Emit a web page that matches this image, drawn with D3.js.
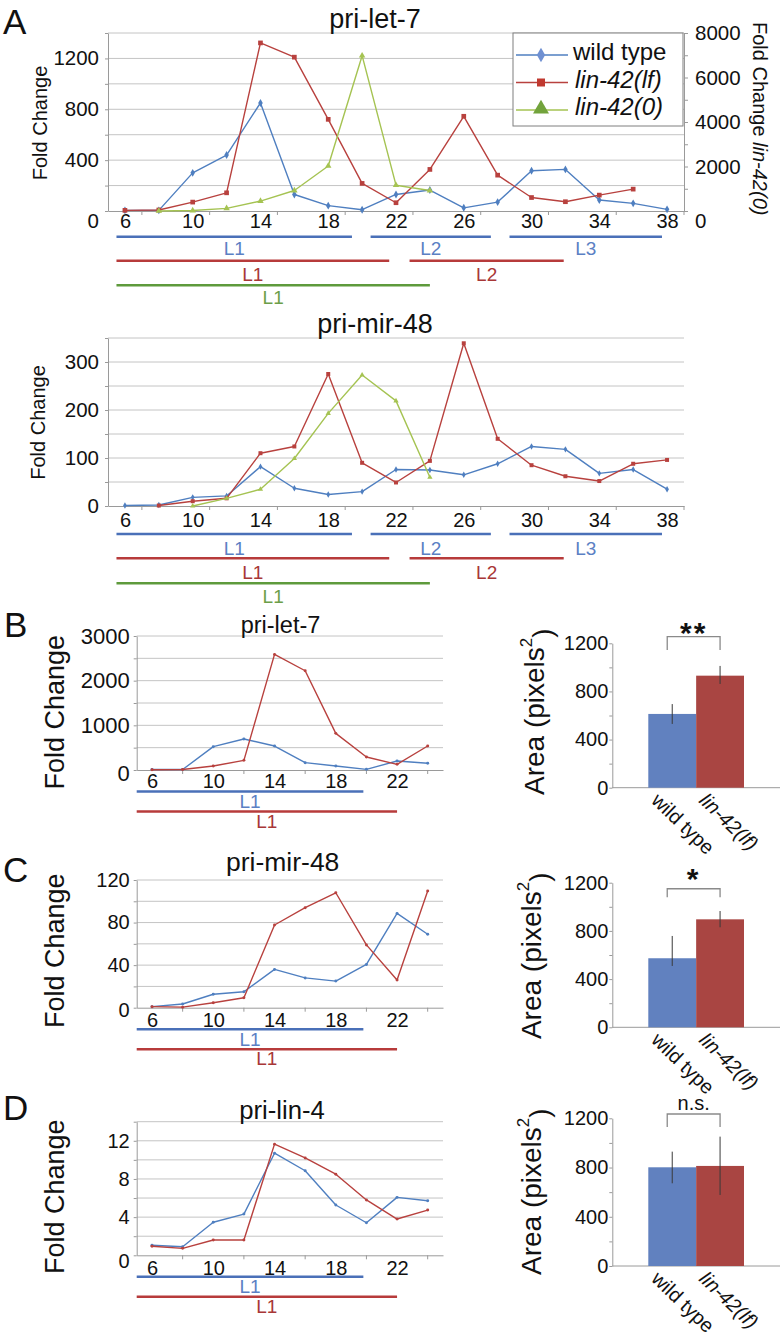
<!DOCTYPE html>
<html><head><meta charset="utf-8">
<script src="https://cdn.jsdelivr.net/npm/d3@7"></script>
<style>body{margin:0;background:#fff}svg text{font-family:"Liberation Sans",Arial,sans-serif}</style>
</head><body><script>
// ---------------- DATA ----------------
const hoursA = [6,8,10,12,14,16,18,20,22,24,26,28,30,32,34,36,38];
const let7WildType   = [5,5,300,440,850,130,42,10,130,165,25,70,316,327,86,60,13];
const let7Lin42lf    = [5,8,70,143,1322,1210,721,217,65,327,745,282,106,73,125,172,null];
const let7Lin42null  = [null,0,20,120,447,920,2025,6980,1160,920,null,null,null,null,null,null,null];
const mir48WildType  = [1,2,18,21,82,37,24,30,76,75,65,88,124,118,68,76,35];
const mir48Lin42lf   = [null,1,10,16,110,124,275,90,49,94,339,140,85,62,52,88,96];
const mir48Lin42null = [null,null,0,16,35,99,193,273,219,60,null,null,null,null,null,null,null];

const hoursB = [6,8,10,12,14,16,18,20,22,24];
const let7WildTypeB  = [10,10,522,693,537,164,90,15,201,150];
const let7Lin42lfB   = [5,10,90,216,2588,2222,820,291,127,537];
const mir48WildTypeC = [1,3.5,12.6,15,36,28,25,40.7,88.6,69];
const mir48Lin42lfC  = [1,0.5,4.7,9.4,77.7,94,108,59,26,109.6];
const lin4WildTypeD  = [1.05,0.9,3.46,4.32,10.7,8.86,5.27,3.41,6.07,5.72];
const lin4Lin42lfD   = [0.95,0.73,1.6,1.6,11.65,10.2,8.5,5.8,3.8,4.74];

const xTicksA = [6,10,14,18,22,26,30,34,38];
const xTicksB = [6,10,14,18,22];
const legendLabels = ['wild type','lin-42(lf)','lin-42(0)'];

const genotypes = ['wild type','lin-42(lf)'];
const areaLet7  = [613,931];  const areaLet7Err  = [[530,695],[862,1012]];
const areaMir48 = [573,896];  const areaMir48Err = [[509,758],[830,965]];
const areaLin4  = [802,813];  const areaLin4Err  = [[672,929],[577,1051]];
const sigLabels = ['**','*','n.s.'];

const stagesWildTypeA  = [['L1',5.5,19.4],['L2',20.5,27.6],['L3',28.7,37.7]];
const stagesLin42lfA   = [['L1',5.5,21.6],['L2',22.8,31.9]];
const stagesLin42nullA = [['L1',5.5,24.0]];
const stagesWildTypeB  = [['L1',5,19.8]];
const stagesLin42lfB   = [['L1',5,22]];

// ---------------- STYLE ----------------
const FONT = '"Liberation Sans", Arial, sans-serif';
const BLUE = '#4f7fc0', RED = '#b8413e', GREEN = '#a5c352';
const GRID = '#c4c4c4', AXIS = '#9a9a9a', INK = '#111';
const svg = d3.select('body').append('svg').attr('width',780).attr('height',1339);

function styleAxis(sel, fs){
  sel.attr('font-family', FONT).attr('font-size', fs);
  sel.select('.domain').attr('stroke', AXIS);
  sel.selectAll('.tick line').attr('stroke', AXIS);
  sel.selectAll('.tick text').attr('fill', INK);
}

function lineChart(o){
  const x = d3.scaleLinear().domain(o.xDomain).range([o.left, o.right]);
  const y = d3.scaleLinear().domain(o.yDomain).range([o.bottom, o.top]);
  const g = svg.append('g');
  const gridVals = d3.range(o.yStep, o.yDomain[1] + o.yStep/2, o.yStep);
  g.append('g').selectAll('line').data(gridVals).join('line')
    .attr('x1', o.left).attr('x2', o.right)
    .attr('y1', d => y(d)).attr('y2', d => y(d))
    .attr('stroke', GRID).attr('stroke-width', 1);
  const ax = g.append('g').attr('transform', `translate(${o.left},0)`)
    .call(d3.axisLeft(y).tickValues(d3.range(0, o.yDomain[1] + o.yStep/2, o.yStep))
      .tickSize(3).tickSizeOuter(0).tickPadding(o.yPad)
      .tickFormat(d => o.yLabels.includes(d) ? d : ''));
  styleAxis(ax, o.yFont);
  ax.selectAll('.tick').filter(d => d === 0).select('text').attr('dy', (0.32*o.yFont + o.zeroDy) + 'px');
  const xa = g.append('g').attr('transform', `translate(0,${o.bottom})`)
    .call(d3.axisBottom(x).tickValues(o.xTicks).tickSize(0).tickSizeOuter(0).tickPadding(o.xPad));
  styleAxis(xa, o.xFont);
  g.append('g').selectAll('line').data(o.xMinor).join('line')
    .attr('x1', d => x(d)).attr('x2', d => x(d))
    .attr('y1', o.bottom).attr('y2', o.bottom + 4).attr('stroke', AXIS);
  let yR = null;
  if (o.yRDomain){
    yR = d3.scaleLinear().domain(o.yRDomain).range([o.bottom, o.top]);
    const ar = g.append('g').attr('transform', `translate(${o.right},0)`)
      .call(d3.axisRight(yR).tickValues(d3.range(0, o.yRDomain[1]+1, 1000))
        .tickSize(4).tickSizeOuter(0).tickPadding(7)
        .tickFormat(d => d % 2000 === 0 ? d : ''));
    styleAxis(ar, o.yFont);
    ar.selectAll('.tick').filter(d => d === 0).select('text').attr('dy', (0.32*o.yFont + o.zeroDy) + 'px');
  }
  o.series.forEach(s => {
    const ys = s.right ? yR : y;
    const pts = o.hours.map((h,i) => ({h, v: s.values[i]})).filter(d => d.v != null);
    g.append('path').datum(pts).attr('fill','none').attr('stroke', s.color)
      .attr('stroke-width', o.lineW).attr('stroke-linejoin','round')
      .attr('d', d3.line().x(d => x(d.h)).y(d => ys(d.v)));
    g.append('g').selectAll('path').data(pts).join('path')
      .attr('transform', d => `translate(${x(d.h)},${ys(d.v)})`)
      .attr('d', d3.symbol().type(s.symbol).size(s.size))
      .attr('fill', s.color);
  });
  g.append('text').attr('x', o.titleX).attr('y', o.titleY).attr('text-anchor','middle')
    .attr('font-size', o.titleFont).attr('fill', INK).text(o.title);
  g.append('text').attr('transform', `translate(${o.ylabX},${o.ylabY}) rotate(-90)`)
    .attr('text-anchor','middle').attr('font-size', o.ylabFont).attr('fill', INK).text('Fold Change');
  return {x, y, g};
}

function drawStages(x, rows, color, labelColor, lineY, labelY, fs){
  const g = svg.append('g');
  g.selectAll('line').data(rows).join('line')
    .attr('x1', d => x(d[1])).attr('x2', d => x(d[2]))
    .attr('y1', lineY).attr('y2', lineY)
    .attr('stroke', color).attr('stroke-width', 2.6);
  g.selectAll('text').data(rows).join('text')
    .attr('x', d => (x(d[1]) + x(d[2]))/2).attr('y', labelY)
    .attr('text-anchor','middle').attr('font-size', fs).attr('fill', labelColor)
    .text(d => d[0]);
}

function panelLetter(t, x, y){
  svg.append('text').attr('x', x).attr('y', y).attr('font-size', 35).attr('fill', INK).text(t);
}

// ---------------- PANEL A ----------------
panelLetter('A', 3, 34);
const a1 = lineChart({
  hours: hoursA, xDomain:[5,39], left:108, right:684, top:33, bottom:211,
  yDomain:[0,1400], yStep:200, yLabels:[0,400,800,1200], yFont:20.5, yPad:6, zeroDy:10,
  xTicks: xTicksA, xFont:20, xPad:3, xMinor:[7,11,15,19,23,27,31,35,39],
  yRDomain:[0,8000], lineW:1.4,
  series:[
    {values: let7WildType, color: BLUE, symbol: d3.symbolDiamond, size: 18},
    {values: let7Lin42lf, color: RED, symbol: d3.symbolSquare, size: 22},
    {values: let7Lin42null, color: GREEN, symbol: d3.symbolTriangle, size: 18, right:true}
  ],
  title:'pri-let-7', titleX:375, titleY:28, titleFont:27,
  ylabX:47, ylabY:123, ylabFont:20
});
// right axis title
{
  const t = svg.append('text').attr('transform','translate(753,22) rotate(90)')
    .attr('font-size',20).attr('fill',INK);
  t.append('tspan').text('Fold Change ');
  t.append('tspan').attr('font-style','italic').text('lin-42(0)');
}
// legend
{
  const lg = svg.append('g');
  lg.append('rect').attr('x',513).attr('y',33).attr('width',170).attr('height',93)
    .attr('fill','#fff').attr('stroke','#7f7f7f').attr('stroke-width',1);
  const cols = [BLUE, RED, GREEN];
  const mcols = ['#6f90d2', '#c0392f', '#72a33c'];
  const syms = [d3.symbolDiamond, d3.symbolSquare, d3.symbolTriangle];
  const sizes = [60, 64, 110];
  const lineYs = [55, 82.5, 110];
  legendLabels.forEach((lab,i) => {
    lg.append('line').attr('x1',516).attr('x2',568).attr('y1',lineYs[i]).attr('y2',lineYs[i])
      .attr('stroke', cols[i]).attr('stroke-width',1.6);
    lg.append('path').attr('transform',`translate(541,${lineYs[i] - (i===2?1:0)})`)
      .attr('d', d3.symbol().type(syms[i]).size(sizes[i])).attr('fill', mcols[i]);
    lg.append('text').attr('x', i===0 ? 573 : 575).attr('y', lineYs[i] + 5)
      .attr('font-size', 24).attr('fill', INK)
      .attr('font-style', i===0 ? null : 'italic').text(lab);
  });
}
drawStages(a1.x, stagesWildTypeA, '#4a70b8', '#5b80c4', 236.7, 255, 19);
drawStages(a1.x, stagesLin42lfA, '#b73b3b', '#a83737', 260.7, 280.5, 19);
drawStages(a1.x, stagesLin42nullA, '#5e9a3c', '#6c9e48', 285.3, 303.5, 19);

const a2 = lineChart({
  hours: hoursA, xDomain:[5,39], left:108, right:684, top:338, bottom:506,
  yDomain:[0,350], yStep:50, yLabels:[0,100,200,300], yFont:20.5, yPad:6, zeroDy:0,
  xTicks: xTicksA, xFont:20, xPad:7, xMinor:[7,11,15,19,23,27,31,35,39],
  lineW:1.4,
  series:[
    {values: mir48WildType, color: BLUE, symbol: d3.symbolDiamond, size: 12},
    {values: mir48Lin42lf, color: RED, symbol: d3.symbolSquare, size: 16},
    {values: mir48Lin42null, color: GREEN, symbol: d3.symbolTriangle, size: 12}
  ],
  title:'pri-mir-48', titleX:375, titleY:333, titleFont:27,
  ylabX:44.5, ylabY:422.5, ylabFont:20
});
drawStages(a2.x, stagesWildTypeA, '#4a70b8', '#5b80c4', 534, 555, 19);
drawStages(a2.x, stagesLin42lfA, '#b73b3b', '#a83737', 558.3, 579, 19);
drawStages(a2.x, stagesLin42nullA, '#5e9a3c', '#6c9e48', 583.3, 603, 19);

// ---------------- PANELS B-D line charts ----------------
function smallLine(o){
  const c = lineChart(Object.assign({
    hours: hoursB, xDomain:[5,25], left:136.7, right:443, xTicks: xTicksB, xFont:20,
    xMinor:[8,12,16,20,24], yFont:20, yPad:4, lineW:1.4, ylabX:64.3, ylabFont:27
  }, o));
  drawStages(c.x, stagesWildTypeB, '#4a70b8', '#5b80c4', o.bottom + 21.5, o.bottom + 38, 19);
  drawStages(c.x, stagesLin42lfB, '#b73b3b', '#a83737', o.bottom + 41.5, o.bottom + 57.5, 19);
  return c;
}
panelLetter('B', 4, 637);
smallLine({top:636, bottom:770, yDomain:[0,3000], yStep:500, yLabels:[0,1000,2000,3000], yFont:22, zeroDy:3, xPad:4,
  series:[{values: let7WildTypeB, color: BLUE, symbol: d3.symbolCircle, size: 7},
          {values: let7Lin42lfB, color: RED, symbol: d3.symbolCircle, size: 7}],
  title:'pri-let-7', titleX:280.5, titleY:632.7, titleFont:23.5, ylabY:712.3});
panelLetter('C', 3, 881.5);
smallLine({top:880, bottom:1007.7, yDomain:[0,120], yStep:20, yLabels:[0,40,80,120], zeroDy:2, xPad:5,
  series:[{values: mir48WildTypeC, color: BLUE, symbol: d3.symbolCircle, size: 7},
          {values: mir48Lin42lfC, color: RED, symbol: d3.symbolCircle, size: 7}],
  title:'pri-mir-48', titleX:282.7, titleY:870.7, titleFont:26.5, ylabY:950.7});
panelLetter('D', 3, 1120);
smallLine({top:1121.7, bottom:1255.3, yDomain:[0,14], yStep:2, yLabels:[0,4,8,12], zeroDy:6, xPad:6,
  series:[{values: lin4WildTypeD, color: BLUE, symbol: d3.symbolCircle, size: 7},
          {values: lin4Lin42lfD, color: RED, symbol: d3.symbolCircle, size: 7}],
  title:'pri-lin-4', titleX:282, titleY:1119.3, titleFont:25.7, ylabY:1196.7});

// ---------------- bar charts ----------------
function barChart(o){
  const y = d3.scaleLinear().domain([0,1200]).range([o.bottom, o.top]);
  const x = d3.scaleBand().domain(genotypes).range([648.3, 744]).padding(0);
  const g = svg.append('g');
  g.append('line').attr('x1',612.3).attr('x2',780).attr('y1',y(0)).attr('y2',y(0)).attr('stroke',AXIS);
  const ax = g.append('g').attr('transform','translate(612.3,0)')
    .call(d3.axisLeft(y).tickValues(d3.range(0,1201,200)).tickSize(3).tickSizeOuter(0).tickPadding(1)
      .tickFormat(d => d % 400 === 0 ? d : ''));
  styleAxis(ax, 20);
  const fills = ['#6181bf','#a94542'];
  g.selectAll('rect.bar').data(genotypes).join('rect')
    .attr('x', d => x(d)).attr('width', x.bandwidth())
    .attr('y', (d,i) => y(o.values[i])).attr('height', (d,i) => y(0) - y(o.values[i]))
    .attr('fill', (d,i) => fills[i]);
  g.selectAll('line.err').data(genotypes).join('line')
    .attr('x1', d => x(d) + x.bandwidth()/2).attr('x2', d => x(d) + x.bandwidth()/2)
    .attr('y1', (d,i) => y(o.err[i][0])).attr('y2', (d,i) => y(o.err[i][1]))
    .attr('stroke','#3a3a3a').attr('stroke-width',1);
  const bl = x(genotypes[0]) + x.bandwidth()/2 - 5, br = x(genotypes[1]) + x.bandwidth()/2;
  g.append('path').attr('d', `M${bl},${y(o.bracket[1])}V${y(o.bracket[0])}H${br}V${y(o.bracket[1])}`)
    .attr('fill','none').attr('stroke','#8a8a8a').attr('stroke-width',1.3);
  g.append('text').attr('x', (bl+br)/2).attr('y', o.sigY).attr('text-anchor','middle')
    .attr('font-size', o.sigFont).attr('font-weight', o.sigBold ? 'bold' : null)
    .attr('letter-spacing', o.sigBold ? 2 : 0).attr('fill', INK).text(o.sig);
  g.selectAll('text.xl').data(genotypes).join('text')
    .attr('transform', d => `translate(${x(d) + x.bandwidth()/2 - 22},${y(0) + 14}) rotate(44)`)
    .attr('font-size', 20).attr('fill', INK)
    .attr('font-style', (d,i) => i === 1 ? 'italic' : null).text(d => d);
  const t = g.append('text').attr('transform', `translate(${o.labX},${o.labY}) rotate(-90)`)
    .attr('text-anchor','middle').attr('font-size', 28).attr('fill', INK);
  t.append('tspan').text('Area (pixels');
  t.append('tspan').attr('font-size', 17).attr('dy', '-0.7em').text('2');
  t.append('tspan').attr('dy', '0.7em').text(')');
}
barChart({top:643.3, bottom:787.7, values: areaLet7, err: areaLet7Err, bracket:[1255,1145],
  sig: sigLabels[0], sigY: 643, sigFont: 30, sigBold: true, labX:544, labY:711.7});
barChart({top:882.7, bottom:1027.3, values: areaMir48, err: areaMir48Err, bracket:[1150,1080],
  sig: sigLabels[1], sigY: 889, sigFont: 30, sigBold: true, labX:541, labY:955.8});
barChart({top:1118.3, bottom:1266, values: areaLin4, err: areaLin4Err, bracket:[1235,1130],
  sig: sigLabels[2], sigY: 1110, sigFont: 20, sigBold: false, labX:541, labY:1191.7});
</script></body></html>
